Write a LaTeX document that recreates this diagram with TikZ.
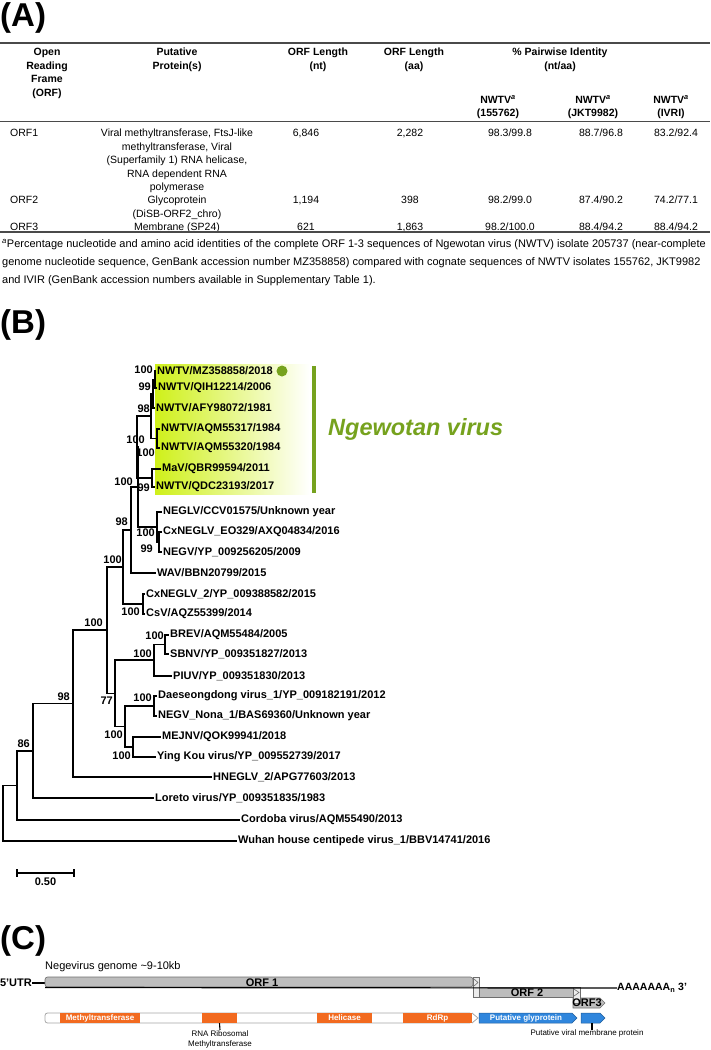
\documentclass[tikz,border=0pt]{standalone}
\usepackage{fontspec}
\setmainfont{Liberation Sans}
\usetikzlibrary{positioning}
\definecolor{ngewgreen}{HTML}{76A21E}
\definecolor{ngewlime}{HTML}{CFF01A}
\definecolor{orfgray}{HTML}{BDBDBD}
\definecolor{orfline}{HTML}{6E6E6E}
\definecolor{domorange}{HTML}{F26A1F}
\definecolor{domblue}{HTML}{2F86DD}
\definecolor{rulegray}{HTML}{4A4A4A}

\begin{document}
\begin{tikzpicture}[x=1pt, y=-1pt,
    panel/.style={font=\fontsize{33}{35}\selectfont\bfseries, anchor=west, inner sep=0pt},
    head/.style={font=\fontsize{10.5}{13.5}\selectfont\bfseries, align=center,
                 anchor=north, inner sep=0pt},
    cell/.style={font=\fontsize{10.5}{13.5}\selectfont, align=center,
                 anchor=north, inner sep=0pt},
    foot/.style={font=\fontsize{11}{12}\selectfont, anchor=west, inner sep=0pt},
    taxon/.style={font=\fontsize{11}{12}\selectfont\bfseries, anchor=west, inner sep=1pt},
    boot/.style={font=\fontsize{11}{12}\selectfont\bfseries, anchor=east, inner sep=0pt},
    branch/.style={line width=1.7pt},
    orfbar/.style={draw=orfline, fill=orfgray, line width=0.6pt},
    orftxt/.style={font=\fontsize{11}{12}\selectfont\bfseries, inner sep=0pt},
    dom/.style={fill=domorange, text=white, font=\fontsize{8}{9}\selectfont\bfseries,
                minimum height=10pt, inner sep=0pt},
    small/.style={font=\fontsize{8}{10}\selectfont, align=center, anchor=north, inner sep=0pt},
    tick/.style={line width=1.1pt}]
  \useasboundingbox (0,0) rectangle (710,1050);

  % ---------- (A) table
  \node[panel] (pA) at (0,18) {(A)};
  \draw[rulegray, line width=1.5pt] (0,43) -- (710,43);
  \node[head] (hOrf) at (47,48) {Open\\Reading\\Frame\\(ORF)};
  \node[head] (hProt) at (177,48) {Putative\\Protein(s)};
  \node[head] (hNt) at (318,48) {ORF Length\\(nt)};
  \node[head] (hAa) at (414,48) {ORF Length\\(aa)};
  \node[head] (hPid) at (560,48) {\% Pairwise Identity\\(nt/aa)};
  \node[head] (hS1) at (498,95) {NWTV\textsuperscript{\textit{a}}\\(155762)};
  \node[head] (hS2) at (593,95) {NWTV\textsuperscript{\textit{a}}\\(JKT9982)};
  \node[head] (hS3) at (671,95) {NWTV\textsuperscript{\textit{a}}\\(IVRI)};
  \draw[rulegray, line width=1pt] (0,121) -- (710,121);

  \node[cell, anchor=north west] (o1) at (10,129) {ORF1};
  \node[cell] (p1) at (177,129) {Viral methyltransferase, FtsJ-like\\methyltransferase, Viral\\%
    (Superfamily 1) RNA helicase,\\RNA dependent RNA\\polymerase};
  \node[cell] (nt1) at (306,129) {6,846};
  \node[cell] (aa1) at (410,129) {2,282};
  \node[cell] (i11) at (510,129) {98.3/99.8};
  \node[cell] (i12) at (601,129) {88.7/96.8};
  \node[cell] (i13) at (676,129) {83.2/92.4};

  \node[cell, anchor=north west] (o2) at (10,196) {ORF2};
  \node[cell] (p2) at (177,196) {Glycoprotein\\(DiSB-ORF2\_chro)};
  \node[cell] (nt2) at (306,196) {1,194};
  \node[cell] (aa2) at (410,196) {398};
  \node[cell] (i21) at (510,196) {98.2/99.0};
  \node[cell] (i22) at (601,196) {87.4/90.2};
  \node[cell] (i23) at (676,196) {74.2/77.1};

  \node[cell, anchor=north west] (o3) at (10,223) {ORF3};
  \node[cell] (p3) at (177,223) {Membrane (SP24)};
  \node[cell] (nt3) at (306,223) {621};
  \node[cell] (aa3) at (410,223) {1,863};
  \node[cell] (i31) at (510,223) {98.2/100.0};
  \node[cell] (i32) at (601,223) {88.4/94.2};
  \node[cell] (i33) at (676,223) {88.4/94.2};
  \draw[rulegray, line width=1.5pt] (0,232) -- (710,232);

  \node[foot] (f1) at (2,245) {\textsuperscript{\textit{a}}Percentage nucleotide and amino acid
    identities of the complete ORF 1-3 sequences of Ngewotan virus (NWTV) isolate 205737 (near-complete};
  \node[foot] (f2) at (2,263) {genome nucleotide sequence, GenBank accession number MZ358858)
    compared with cognate sequences of NWTV isolates 155762, JKT9982};
  \node[foot] (f3) at (2,281) {and IVIR (GenBank accession numbers available in Supplementary Table 1).};

  % ---------- (B) tree
  \node[panel] (pB) at (0,325) {(B)};
  \shade[left color=ngewlime, middle color=ngewlime!70, right color=white] (155,364) rectangle (310,494);
  \fill[ngewgreen] (312,366) rectangle (316,493);
  \node[font=\fontsize{23.5}{26}\selectfont\bfseries\itshape, text=ngewgreen,
        anchor=west, inner sep=0pt] (clade) at (328,429) {Ngewotan virus};

  % leaf tips
  \coordinate (L1) at (156,371);  \coordinate (L2) at (157,388);
  \coordinate (L3) at (155,408);  \coordinate (L4) at (160,429);
  \coordinate (L5) at (160,448);  \coordinate (L6) at (161,469);
  \coordinate (L7) at (155,487);  \coordinate (L8) at (162,512);
  \coordinate (L9) at (162,532);  \coordinate (L10) at (162,552);
  \coordinate (L11) at (156,573); \coordinate (L12) at (145,594);
  \coordinate (L13) at (145,614); \coordinate (L14) at (169,635);
  \coordinate (L15) at (169,654); \coordinate (L16) at (172,676);
  \coordinate (L17) at (157,696); \coordinate (L18) at (157,716);
  \coordinate (L19) at (161,737); \coordinate (L20) at (156,757);
  \coordinate (L21) at (212,777); \coordinate (L22) at (154,798);
  \coordinate (L23) at (240,820); \coordinate (L24) at (237,841);
  % internal nodes
  \coordinate (c12) at (155,379.5);  \coordinate (c123) at (153,393.75);
  \coordinate (c45) at (157,438.5);  \coordinate (c15) at (151,416.1);
  \coordinate (c67) at (152,478);    \coordinate (cN) at (137,447);
  \coordinate (cNE2) at (159,542);   \coordinate (cNE) at (157,527);
  \coordinate (cA) at (138,487);     \coordinate (cB) at (131,530);
  \coordinate (cCs) at (143,604);    \coordinate (cC) at (123,567);
  \coordinate (cBr) at (165,644.5);  \coordinate (cPi) at (154,660.25);
  \coordinate (cDa) at (154,706);    \coordinate (cMe) at (133,747);
  \coordinate (cA2) at (125,726.5);  \coordinate (cB2) at (115,693.4);
  \coordinate (cBig) at (107,630.2); \coordinate (c73) at (73,703.6);
  \coordinate (c33) at (33,750.8);   \coordinate (c17) at (17,785.4);
  \coordinate (root) at (3,813.2);

  \foreach \p/\c in {c12/L1, c12/L2, c123/c12, c123/L3, c45/L4, c45/L5,
      c15/c123, c15/c45, c67/L6, c67/L7, cN/c15, cN/c67, cNE2/L9, cNE2/L10,
      cNE/L8, cNE/cNE2, cA/cN, cA/cNE, cB/cA, cB/L11, cCs/L12, cCs/L13,
      cC/cB, cC/cCs, cBr/L14, cBr/L15, cPi/cBr, cPi/L16, cDa/L17, cDa/L18,
      cMe/L19, cMe/L20, cA2/cDa, cA2/cMe, cB2/cPi, cB2/cA2, cBig/cC, cBig/cB2,
      c73/cBig, c73/L21, c33/c73, c33/L22, c17/c33, c17/L23, root/c17, root/L24}
    \draw[branch] (\p) |- (\c);

  \node[taxon] (t1) at (L1) {NWTV/MZ358858/2018};
  \node[taxon] (t2) at (L2) {NWTV/QIH12214/2006};
  \node[taxon] (t3) at (L3) {NWTV/AFY98072/1981};
  \node[taxon] (t4) at (L4) {NWTV/AQM55317/1984};
  \node[taxon] (t5) at (L5) {NWTV/AQM55320/1984};
  \node[taxon] (t6) at (L6) {MaV/QBR99594/2011};
  \node[taxon] (t7) at (L7) {NWTV/QDC23193/2017};
  \node[taxon] (t8) at (L8) {NEGLV/CCV01575/Unknown year};
  \node[taxon] (t9) at (L9) {CxNEGLV\_EO329/AXQ04834/2016};
  \node[taxon] (t10) at (L10) {NEGV/YP\_009256205/2009};
  \node[taxon] (t11) at (L11) {WAV/BBN20799/2015};
  \node[taxon] (t12) at (L12) {CxNEGLV\_2/YP\_009388582/2015};
  \node[taxon] (t13) at (L13) {CsV/AQZ55399/2014};
  \node[taxon] (t14) at (L14) {BREV/AQM55484/2005};
  \node[taxon] (t15) at (L15) {SBNV/YP\_009351827/2013};
  \node[taxon] (t16) at (L16) {PIUV/YP\_009351830/2013};
  \node[taxon] (t17) at (L17) {Daeseongdong virus\_1/YP\_009182191/2012};
  \node[taxon] (t18) at (L18) {NEGV\_Nona\_1/BAS69360/Unknown year};
  \node[taxon] (t19) at (L19) {MEJNV/QOK99941/2018};
  \node[taxon] (t20) at (L20) {Ying Kou virus/YP\_009552739/2017};
  \node[taxon] (t21) at (L21) {HNEGLV\_2/APG77603/2013};
  \node[taxon] (t22) at (L22) {Loreto virus/YP\_009351835/1983};
  \node[taxon] (t23) at (L23) {Cordoba virus/AQM55490/2013};
  \node[taxon] (t24) at (L24) {Wuhan house centipede virus\_1/BBV14741/2016};
  \fill[ngewgreen] (282,371) circle[radius=5.5pt];

  % bootstrap values
  \node[boot] (b1) at (153,370) {100};
  \node[boot] (b2) at (151,387) {99};
  \node[boot] (b3) at (150,409) {98};
  \node[boot] (b4) at (155,453) {100};
  \node[boot] (b5) at (145,440) {100};
  \node[boot] (b6) at (150,488) {99};
  \node[boot] (b7) at (133,482) {100};
  \node[boot] (b8) at (155,533) {100};
  \node[boot] (b9) at (153,549) {99};
  \node[boot] (b10) at (128,522) {98};
  \node[boot] (b11) at (122,560) {100};
  \node[boot] (b12) at (140,612) {100};
  \node[boot] (b13) at (164,636) {100};
  \node[boot] (b14) at (152,654) {100};
  \node[boot] (b15) at (152,698) {100};
  \node[boot] (b16) at (123,735) {100};
  \node[boot] (b17) at (131,756) {100};
  \node[boot] (b18) at (113,701) {77};
  \node[boot] (b19) at (103,623) {100};
  \node[boot] (b20) at (70,697) {98};
  \node[boot] (b21) at (30,744) {86};

  % scale bar
  \coordinate (sb0) at (17,873);
  \coordinate (sb1) at (74,873);
  \draw[branch] (sb0) -- (sb1);
  \draw[branch] ([yshift=4pt]sb0) -- ([yshift=-4pt]sb0);
  \draw[branch] ([yshift=4pt]sb1) -- ([yshift=-4pt]sb1);
  \node[boot, anchor=north] (sblab) at (45.5,878) {0.50};

  % ---------- (C) genome
  \node[panel] (pC) at (0,941) {(C)};
  \node[font=\fontsize{11}{12}\selectfont, anchor=west, inner sep=0pt] (gtitle) at (45,967)
    {Negevirus genome \textasciitilde 9-10kb};
  \node[orftxt, anchor=east] (utr) at (32,983) {5'UTR};
  \coordinate (gstart) at (45,983);
  \draw[line width=1.1pt] (utr) -- (gstart);

  \draw[orfbar, rounded corners=2.5pt] (45,977) rectangle (473,987);
  \draw[orfbar] (573,998) -- (600,998) -- (605,1003) -- (600,1008) -- (573,1008) -- cycle;
  \draw[orfbar] (479,987) rectangle (573,997);
  \draw[draw=orfline, fill=gray!15, line width=0.6pt] (473,977) rectangle (479,997);
  \draw[orfline, line width=0.6pt] (474,979) -- (478,982.5) -- (474,986);
  \draw[draw=orfline, fill=gray!15, line width=0.6pt] (573,987) rectangle (580,1003);
  \draw[orfline, line width=0.6pt] (574,989) -- (579,992.5) -- (574,996);
  \node[orftxt, font=\fontsize{10.5}{12}\selectfont\bfseries, anchor=west] (polyA) at (617,988)
    {AAAAAAA\textsubscript{n} 3'};
  \coordinate (g1) at (45,987.5);
  \draw[line width=1.2pt] (g1) -- (polyA.west);
  \node[orftxt] (orf1) at (262,983) {ORF 1};
  \node[orftxt] (orf2) at (527,992.5) {ORF 2};
  \node[orftxt] (orf3) at (587,1003) {ORF3};

  % domains
  \draw[draw=gray!70, fill=white, line width=0.8pt, rounded corners=2.5pt] (45,1013) rectangle (472,1023);
  \node[dom, minimum width=80pt] (mtase) at (100,1018) {Methyltransferase};
  \node[dom, minimum width=35pt] (rrm) at (219.5,1018) {};
  \node[dom, minimum width=55pt] (hel) at (344.5,1018) {Helicase};
  \node[dom, minimum width=69pt] (rdrp) at (437.5,1018) {RdRp};
  \draw[draw=gray!70, fill=white, line width=0.8pt] (472,1013) -- (478,1018) -- (472,1023);
  \draw[draw=domblue!70!black, fill=domblue, line width=0.5pt]
    (479,1013) -- (572,1013) -- (577,1018) -- (572,1023) -- (479,1023) -- cycle;
  \draw[draw=domblue!70!black, fill=domblue, line width=0.5pt]
    (581,1013) -- (600,1013) -- (605,1018) -- (600,1023) -- (581,1023) -- cycle;
  \node[dom, fill=none] (glyco) at (526,1018) {Putative glyprotein};
  \coordinate (memb) at (592,1023);
  \node[small] (rrmlab) at (220,1030) {RNA Ribosomal\\Methyltransferase};
  \draw[tick] (rrm.south) -- (rrmlab.north);
  \node[small] (memblab) at (587,1029.5) {Putative viral membrane protein};
  \draw[tick] (memb) -- (memb |- memblab.north);
\end{tikzpicture}
\end{document}
